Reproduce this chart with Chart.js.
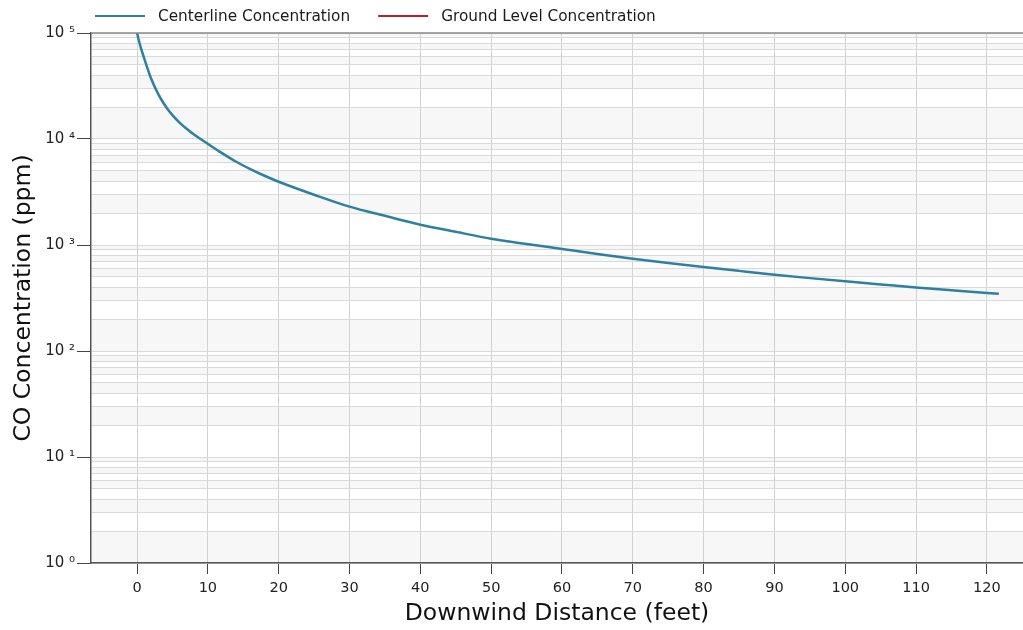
<!DOCTYPE html>
<html>
<head>
<meta charset="utf-8">
<script src="https://cdn.jsdelivr.net/npm/chart.js@4/dist/chart.umd.min.js"></script>
<style>
  html, body { margin: 0; padding: 0; background: #fff; }
  #plume { display: block; }
</style>
</head>
<body>
<canvas id="plume" width="1023" height="630"></canvas>
<script>
// Downwind distance (feet) and CO concentration (ppm) on the plume centerline
const distance = [0, 0.5, 1, 2, 3, 4, 5, 6, 7, 8, 10, 12, 14, 16, 18, 20, 25, 30, 35, 40, 45, 50, 55, 60, 65, 70, 75, 80, 85, 90, 95, 100, 105, 110, 115, 120, 121.7];
const centerline = [100000, 74000, 58000, 37000, 26500, 20500, 16800, 14300, 12500, 11100, 9000, 7350, 6100, 5200, 4500, 3950, 2980, 2300, 1885, 1555, 1332, 1146, 1022, 917, 822, 743, 677, 620, 570, 525, 487, 454, 425, 398, 374, 352, 346];
// no ground level points fall inside the plotted range
const groundLevel = [];

const xTicks = [0, 10, 20, 30, 40, 50, 60, 70, 80, 90, 100, 110, 120];
const yDecades = [1, 10, 100, 1000, 10000, 100000];
const yDecadeLabels = ['10 \u2070', '10 \u00b9', '10 \u00b2', '10 \u00b3', '10 \u2074', '10 \u2075'];

// decades plus the 2..9 minor lines in between
const yTicks = [];
yDecades.forEach((d, i) => {
  yTicks.push({ value: d, major: true });
  if (i < yDecades.length - 1) {
    for (let m = 2; m <= 9; m++) yTicks.push({ value: d * m, major: false });
  }
});

const FONT = '"DejaVu Sans", Verdana, sans-serif';
Chart.defaults.font.family = FONT;
Chart.defaults.color = '#222';

// light stripes between every other horizontal grid line
const bandShading = {
  id: 'bandShading',
  beforeDraw(chart) {
    const { ctx, chartArea: a, scales: { y } } = chart;
    ctx.save();
    ctx.fillStyle = '#f7f7f7';
    for (let i = 0; i < yTicks.length - 1; i += 2) {
      const top = y.getPixelForValue(yTicks[i + 1].value);
      const bottom = y.getPixelForValue(yTicks[i].value);
      ctx.fillRect(a.left, top, a.right - a.left, bottom - top);
    }
    ctx.restore();
  }
};

// top frame line and the line-sample key above the plot
const frameAndKey = {
  id: 'frameAndKey',
  afterDraw(chart) {
    const { ctx, chartArea: a } = chart;
    ctx.save();
    ctx.strokeStyle = '#8a8a8a';
    ctx.lineWidth = 1.5;
    ctx.beginPath();
    ctx.moveTo(a.left, a.top);
    ctx.lineTo(a.right, a.top);
    ctx.stroke();

    ctx.font = '15.3px ' + FONT;
    ctx.textBaseline = 'middle';
    const y = 16;
    let x = 95;
    chart.data.datasets.forEach(ds => {
      ctx.strokeStyle = ds.borderColor;
      ctx.lineWidth = 2;
      ctx.beginPath();
      ctx.moveTo(x, y);
      ctx.lineTo(x + 50, y);
      ctx.stroke();
      ctx.fillStyle = '#1a1a1a';
      ctx.fillText(ds.label, x + 63, y + 1);
      x += 63 + ctx.measureText(ds.label).width + 28;
    });
    ctx.restore();
  }
};

new Chart(document.getElementById('plume'), {
  type: 'line',
  data: {
    datasets: [
      {
        label: 'Centerline Concentration',
        data: distance.map((d, i) => ({ x: d, y: centerline[i] })),
        borderColor: '#2d80a3',
        borderWidth: 2.5,
        pointRadius: 0,
        cubicInterpolationMode: 'monotone',
        fill: false
      },
      {
        label: 'Ground Level Concentration',
        data: groundLevel,
        borderColor: '#b3202c',
        borderWidth: 2.5,
        pointRadius: 0,
        fill: false
      }
    ]
  },
  options: {
    responsive: false,
    animation: false,
    devicePixelRatio: 1,
    layout: { padding: { top: 33, left: 0, right: 0, bottom: 0 } },
    plugins: {
      legend: { display: false },
      tooltip: { enabled: false }
    },
    scales: {
      x: {
        type: 'linear',
        min: -6.5,
        max: 125.1,
        afterBuildTicks: s => { s.ticks = xTicks.map(v => ({ value: v })); },
        afterFit: s => { s.height = 67; },
        grid: { color: '#d2d2d2', lineWidth: 1, tickLength: 11, tickColor: '#444' },
        border: { color: '#555', width: 1.5 },
        ticks: { font: { size: 14.5 }, padding: 6, maxRotation: 0, autoSkip: false },
        title: {
          display: true,
          text: 'Downwind Distance (feet)',
          color: '#111',
          font: { size: 23.5 },
          padding: { top: 0, bottom: 2 }
        }
      },
      y: {
        type: 'logarithmic',
        min: 1,
        max: 100000,
        afterBuildTicks: s => { s.ticks = yTicks.map(t => ({ value: t.value, major: t.major })); },
        afterFit: s => { s.width = 91; },
        grid: {
          color: '#dadada',
          lineWidth: 1,
          tickLength: 14,
          tickColor: c => (c.tick && c.tick.major ? '#444' : 'rgba(0,0,0,0)')
        },
        border: { color: '#555', width: 1.5 },
        ticks: {
          font: { size: 15 },
          padding: 2,
          autoSkip: false,
          callback: v => {
            const k = yDecades.indexOf(v);
            return k >= 0 ? yDecadeLabels[k] : '';
          }
        },
        title: {
          display: true,
          text: 'CO Concentration (ppm)',
          color: '#111',
          font: { size: 23.5 },
          padding: { top: 10, bottom: 0 }
        }
      }
    }
  },
  plugins: [bandShading, frameAndKey]
});
</script>
</body>
</html>
